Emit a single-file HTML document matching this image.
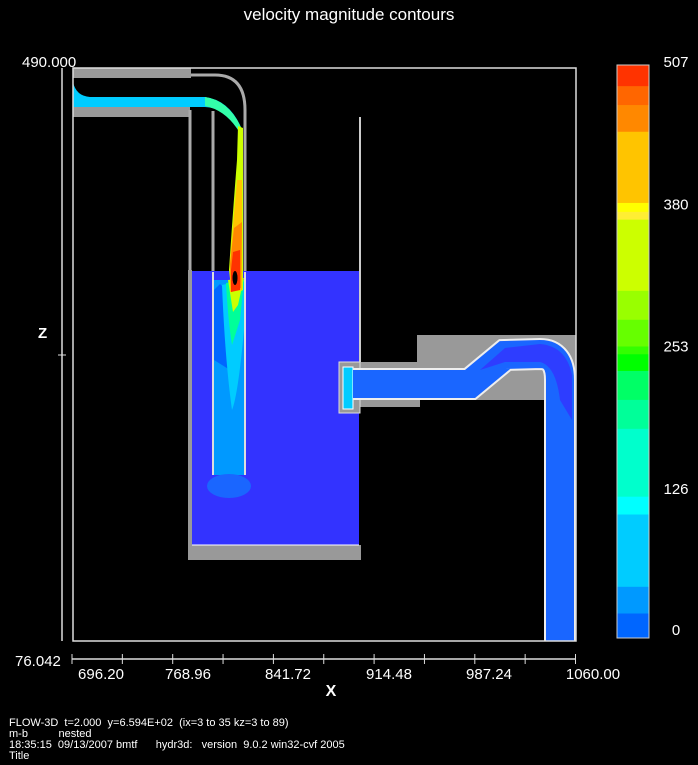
<!DOCTYPE html>
<html><head><meta charset="utf-8"><style>
html,body{margin:0;padding:0;background:#000;width:698px;height:765px;overflow:hidden}
svg{display:block}
text{font-family:"Liberation Sans",sans-serif;fill:#fff;white-space:pre}
</style></head><body>
<svg id="chart" width="698" height="765" viewBox="0 0 698 765" xmlns="http://www.w3.org/2000/svg">
<rect width="698" height="765" fill="#000"/>
<text x="349" y="20" text-anchor="middle" font-size="17">velocity magnitude contours</text>

<g>
  <rect x="73" y="68" width="118" height="10" fill="#999"/>
  <rect x="73" y="107" width="117" height="10" fill="#999"/>
  <path d="M73,82 Q76,96 90,97 L205,97 Q228,100 240,125 L236,124 Q225,108 205,107 L73,107 Z" fill="#00ccff"/>
  <path d="M205,97 Q228,100 241,127 L238,130 Q225,110 205,106 Z" fill="#33ffaa"/>
  <path d="M191,75 L215,75 Q245,75 245,110 L245,475" fill="none" stroke="#aaa" stroke-width="3"/>
  <path d="M190,110 L190,475 M213,111 L213,475" fill="none" stroke="#aaa" stroke-width="3"/>
  <line x1="360" y1="117" x2="360" y2="362" stroke="#ccc" stroke-width="2"/>
  <rect x="188" y="270" width="4" height="290" fill="#999"/>
  <rect x="192" y="271" width="167" height="274" fill="#3333ff"/>
  <rect x="188" y="545" width="173" height="15" fill="#999"/>
  <line x1="192" y1="545" x2="359" y2="545" stroke="#fff" stroke-width="1"/>
  <rect x="214" y="280" width="30" height="195" fill="#0099ff"/>
  <path d="M214,290 L220,284 L236,300 L230,370 L214,360 Z" fill="#0066ff"/>
  <path d="M222,285 L244,280 L244,330 Q238,395 232,410 Q225,360 222,285 Z" fill="#00ccff"/>
  <path d="M226,283 L244,280 L240,320 L232,345 Q228,320 226,283 Z" fill="#00ff99"/>
  <path d="M228,280 L244,278 L238,305 L233,312 Z" fill="#ccff00"/>
  <ellipse cx="229" cy="486" rx="22" ry="12" fill="#1a66ff"/>
  <path d="M213,272 L213,475 M245,272 L245,475" stroke="#ddd" stroke-width="2"/>
  <path d="M238,126 L243,128 L243,290 L232,296 L229,270 Q233,210 237,160 Z" fill="#ccff00"/>
  <path d="M237,180 L242,180 L242,290 L230,292 L230,262 Z" fill="#ffc400"/>
  <path d="M234,228 L242,222 L241,288 L231,292 L230,264 Z" fill="#ff8800"/>
  <path d="M233,252 L240,250 L240,290 L231,292 L231,270 Z" fill="#ff3300"/>
  <ellipse cx="235" cy="278" rx="2.5" ry="7" fill="#000"/>
  <rect x="417" y="335" width="159" height="65" fill="#999"/>
  <rect x="360" y="362" width="60" height="45" fill="#999"/>
  <rect x="339" y="362" width="21" height="51" fill="#999" stroke="#ddd" stroke-width="1"/>
  <rect x="343" y="367" width="10" height="42" fill="#00ccff" stroke="#fff" stroke-width="1"/>
  <path d="M353,384 L470,384 L505,355 L540,354 Q560,354 560,380 L560,641" fill="none" stroke="#eee" stroke-width="32"/>
  <path d="M353,384 L470,384 L505,355 L540,354 Q560,354 560,380 L560,641" fill="none" stroke="#1a66ff" stroke-width="28"/>
  <path d="M480,370 L505,348 L540,344 Q566,346 572,375 L572,420 L560,400 Q556,366 540,362 L505,362 Z" fill="#3333ff" opacity="0.8"/>
</g>

<rect x="73" y="68" width="503" height="573" fill="none" stroke="#ddd" stroke-width="1.5"/>

<g>
  <line x1="62" y1="68" x2="62" y2="641" stroke="#ddd" stroke-width="1.5"/>
  <line x1="58" y1="355" x2="66" y2="355" stroke="#ddd"/>
  <text x="22" y="67" font-size="15">490.000</text>
  <text x="15" y="666" font-size="15">76.042</text>
  <text x="38" y="338" font-size="15" font-weight="bold">Z</text>
</g>
<g id="xaxis">
  <line x1="72" y1="659" x2="576" y2="659" stroke="#ddd" stroke-width="1.5"/>
  <text x="331" y="696" text-anchor="middle" font-size="16" font-weight="bold">X</text>
</g>
<g id="colorbar"></g>

<g font-size="11">
  <text x="9" y="726" font-size="11">FLOW-3D  t=2.000  y=6.594E+02  (ix=3 to 35 kz=3 to 89)</text>
  <text x="9" y="737" font-size="11">m-b          nested</text>
  <text x="9" y="748" font-size="11">18:35:15  09/13/2007 bmtf      hydr3d:   version  9.0.2 win32-cvf 2005</text>
  <text x="9" y="759" font-size="11">Title</text>
</g>
</svg>
<script>
const xTickLabels = ["696.20","768.96","841.72","914.48","987.24","1060.00"];
const xLabelCenters = [101,188,288,389,489,593];
const bandTops = [507,488,471,447,383,375,368,304,278,254,247,232,206,180,119,103,38,14];
const bandColors = ["#ff3300","#ff6600","#ff8800","#ffc400","#ffff00","#ffee33","#ccff00","#99ff00","#66ff00","#33ff00","#00ff00","#00ff66","#00ff99","#00ffcc","#00ffff","#00ccff","#0099ff","#0066ff"];
const cbTicks = [0,126,253,380,507];
const cbMin = -8, cbMax = 507;
const NS = "http://www.w3.org/2000/svg";
function cbY(v){ return 65 + (cbMax - v) / (cbMax - cbMin) * 573; }
const cb = document.getElementById('colorbar');
for (let i = 0; i < bandTops.length; i++) {
  const top = bandTops[i];
  const bot = i + 1 < bandTops.length ? bandTops[i+1] : cbMin;
  const r = document.createElementNS(NS, 'rect');
  
  
  r.setAttribute('x', 617); r.setAttribute('width', 32);
  r.setAttribute('y', cbY(top)); r.setAttribute('height', cbY(bot) - cbY(top) + 0.5);
  r.setAttribute('fill', bandColors[i]);
  cb.appendChild(r);
}
const fr = document.createElementNS(NS, 'rect');


fr.setAttribute('x', 617); fr.setAttribute('y', 65); fr.setAttribute('width', 32); fr.setAttribute('height', 573);
fr.setAttribute('fill', 'none'); fr.setAttribute('stroke', '#ccc');
cb.appendChild(fr);
for (const v of cbTicks) {
  const t = document.createElementNS(NS, 'text');
  
  
  t.setAttribute('x', 676); t.setAttribute('y', 630 - v * 1.12 + 5);
  t.setAttribute('text-anchor', 'middle'); t.setAttribute('font-size', '15');
  t.textContent = v;
  cb.appendChild(t);
}
const xa = document.getElementById('xaxis');
for (let i = 0; i <= 10; i++) {
  const l = document.createElementNS(NS, 'line');
  
  
  const x = 72 + i * 50.35;
  l.setAttribute('x1', x); l.setAttribute('x2', x);
  l.setAttribute('y1', 654); l.setAttribute('y2', 664);
  l.setAttribute('stroke', '#ddd');
  xa.appendChild(l);
}
xTickLabels.forEach((s, i) => {
  const t = document.createElementNS(NS, 'text');
  
  
  t.setAttribute('x', xLabelCenters[i]); t.setAttribute('y', 679);
  t.setAttribute('text-anchor', 'middle'); t.setAttribute('font-size', '15');
  t.textContent = s;
  xa.appendChild(t);
});
</script>
</body></html>
